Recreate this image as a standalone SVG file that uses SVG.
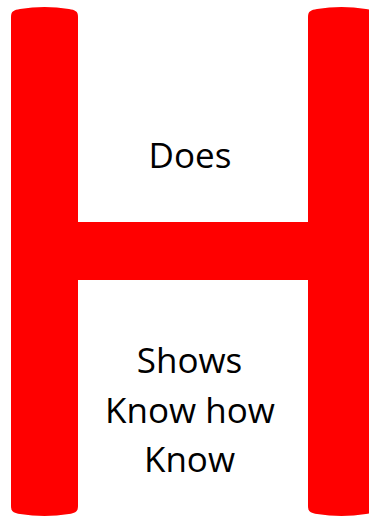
<svg xmlns="http://www.w3.org/2000/svg" width="369" height="516" viewBox="0 0 369 516">
<style>
.bar{fill:#FF0000}
.t{font-family:"Open Sans","Noto Sans",sans-serif;font-size:35px;fill:#000;text-anchor:middle}
</style>
<rect width="369" height="516" fill="#fff"/>
<g id="h-shape">
<path id="left-bar" class="bar" d="M11,17 C11,11 14,10 20,9 Q44.5,5 69,9 C75,10 78,11 78,17 V506 C78,512 75,513 69,514 Q44.5,518 20,514 C14,513 11,512 11,506 Z"/>
<path id="right-bar" class="bar" transform="translate(297,0)" d="M11,17 C11,11 14,10 20,9 Q44.5,5 69,9 C75,10 78,11 78,17 V506 C78,512 75,513 69,514 Q44.5,518 20,514 C14,513 11,512 11,506 Z"/>
<rect id="crossbar" class="bar" x="77" y="222" width="232" height="58"/>
</g>
<g id="labels">
<text class="t" x="190" y="168">Does</text>
<text class="t" x="189.5" y="373">Shows</text>
<text class="t" x="190" y="423">Know how</text>
<text class="t" x="189.5" y="472">Know</text>
</g>
</svg>
